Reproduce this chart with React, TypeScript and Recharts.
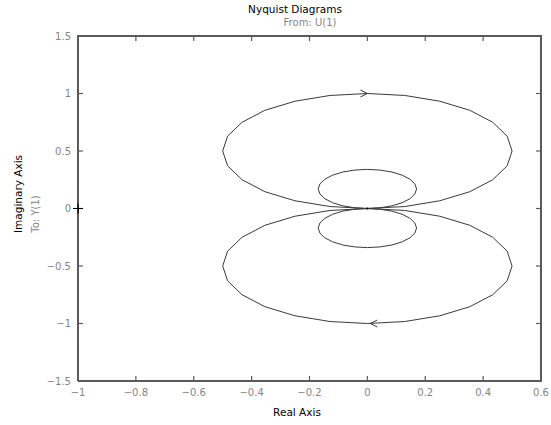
import React from "react";
import { ScatterChart, Scatter, XAxis, YAxis } from "recharts";

const upperOuterLoop: [number, number][] = [
  [0, 0], [-0.129, 0.017], [-0.25, 0.067], [-0.354, 0.146], [-0.433, 0.25], [-0.483, 0.371],
  [-0.5, 0.5], [-0.483, 0.629], [-0.433, 0.75], [-0.354, 0.854], [-0.25, 0.933], [-0.129, 0.983],
  [0, 1], [0.129, 0.983], [0.25, 0.933], [0.354, 0.854], [0.433, 0.75], [0.483, 0.629],
  [0.5, 0.5], [0.483, 0.371], [0.433, 0.25], [0.354, 0.146], [0.25, 0.067], [0.129, 0.017], [0, 0],
];
const lowerOuterLoop: [number, number][] = [
  [0, 0], [0.129, -0.017], [0.25, -0.067], [0.354, -0.146], [0.433, -0.25], [0.483, -0.371],
  [0.5, -0.5], [0.483, -0.629], [0.433, -0.75], [0.354, -0.854], [0.25, -0.933], [0.129, -0.983],
  [0, -1], [-0.129, -0.983], [-0.25, -0.933], [-0.354, -0.854], [-0.433, -0.75], [-0.483, -0.629],
  [-0.5, -0.5], [-0.483, -0.371], [-0.433, -0.25], [-0.354, -0.146], [-0.25, -0.067], [-0.129, -0.017], [0, 0],
];
const upperInnerLoop: [number, number][] = [
  [0, 0], [-0.044, 0.006], [-0.085, 0.023], [-0.12, 0.05], [-0.147, 0.085], [-0.164, 0.126],
  [-0.17, 0.17], [-0.164, 0.214], [-0.147, 0.255], [-0.12, 0.29], [-0.085, 0.317], [-0.044, 0.334],
  [0, 0.34], [0.044, 0.334], [0.085, 0.317], [0.12, 0.29], [0.147, 0.255], [0.164, 0.214],
  [0.17, 0.17], [0.164, 0.126], [0.147, 0.085], [0.12, 0.05], [0.085, 0.023], [0.044, 0.006], [0, 0],
];
const lowerInnerLoop: [number, number][] = [
  [0, 0], [0.044, -0.006], [0.085, -0.023], [0.12, -0.05], [0.147, -0.085], [0.164, -0.126],
  [0.17, -0.17], [0.164, -0.214], [0.147, -0.255], [0.12, -0.29], [0.085, -0.317], [0.044, -0.334],
  [0, -0.34], [-0.044, -0.334], [-0.085, -0.317], [-0.12, -0.29], [-0.147, -0.255], [-0.164, -0.214],
  [-0.17, -0.17], [-0.164, -0.126], [-0.147, -0.085], [-0.12, -0.05], [-0.085, -0.023], [-0.044, -0.006], [0, 0],
];
const arrowMarkers = [
  { x: 0, y: 1, dir: "right" },
  { x: 0.01, y: -1, dir: "left" },
];
const criticalPoint = [{ x: -1, y: 0 }];
const originPoint = [{ x: 0, y: 0 }];

const xDomain: [number, number] = [-1, 0.6];
const yDomain: [number, number] = [-1.5, 1.5];
const xTicks = [-1, -0.8, -0.6, -0.4, -0.2, 0, 0.2, 0.4, 0.6];
const yTicks = [-1.5, -1, -0.5, 0, 0.5, 1, 1.5];

const titleText = "Nyquist Diagrams";
const fromText = "From: U(1)";
const toText = "To: Y(1)";
const xLabelText = "Real Axis";
const yLabelText = "Imaginary Axis";

const toPts = (arr: [number, number][]) => arr.map(([x, y]) => ({ x, y }));
const fmt = (v: number) => String(v).replace("-", "\u2212");

// plot frame and tick anchor points, derived from the domains / tick lists
const frame = [
  { x: xDomain[0], y: yDomain[0] },
  { x: xDomain[1], y: yDomain[0] },
  { x: xDomain[1], y: yDomain[1] },
  { x: xDomain[0], y: yDomain[1] },
  { x: xDomain[0], y: yDomain[0] },
];
const bottomTickPts = xTicks.map((t) => ({ x: t, y: yDomain[0], side: "b" }));
const topTickPts = xTicks.map((t) => ({ x: t, y: yDomain[1], side: "t" }));
const leftTickPts = yTicks.map((t) => ({ x: xDomain[0], y: t, side: "l" }));
const rightTickPts = yTicks.map((t) => ({ x: xDomain[1], y: t, side: "r" }));

const FONT = "'DejaVu Sans', sans-serif";
const AXIS = "#5a5a5a";
const TICKTXT = "#858585";
const CURVE = "#3a3a3a";
const TL = 5;

const NoShape = () => <g />;

const TickMark = (props: any) => {
  const { cx, cy, payload } = props;
  const s = payload.side;
  const d =
    s === "b" ? `M ${cx} ${cy} L ${cx} ${cy - TL}` :
    s === "t" ? `M ${cx} ${cy} L ${cx} ${cy + TL}` :
    s === "l" ? `M ${cx} ${cy} L ${cx + TL} ${cy}` :
    `M ${cx} ${cy} L ${cx - TL} ${cy}`;
  return <path d={d} stroke={AXIS} strokeWidth={1.2} fill="none" />;
};

const ArrowShape = (props: any) => {
  const { cx, cy, payload } = props;
  const s = payload.dir === "right" ? 1 : -1;
  return (
    <path
      d={`M ${cx - s * 7} ${cy - 3.5} L ${cx} ${cy} L ${cx - s * 7} ${cy + 3.5}`}
      fill="none"
      stroke={CURVE}
      strokeWidth={1}
    />
  );
};

const PlusShape = (props: any) => {
  const { cx, cy } = props;
  return (
    <path
      d={`M ${cx - 5} ${cy} L ${cx + 5} ${cy} M ${cx} ${cy - 5} L ${cx} ${cy + 5}`}
      stroke="#000"
      strokeWidth={1.2}
      fill="none"
    />
  );
};

const DotShape = (props: any) => {
  const { cx, cy } = props;
  return <rect x={cx - 1} y={cy - 1} width={2} height={2} fill="#000" />;
};

const BottomTick = (props: any) => {
  const { x, y, payload } = props;
  const ay = y - 6;
  return (
    <text x={x} y={ay + 15} textAnchor="middle" fill={TICKTXT} fontSize={10} fontFamily={FONT}>
      {fmt(payload.value)}
    </text>
  );
};
const LeftTick = (props: any) => {
  const { x, y, payload } = props;
  const ax = x + 8;
  return (
    <text x={ax - 7} y={y + 3.5} textAnchor="end" fill={TICKTXT} fontSize={10} fontFamily={FONT}>
      {fmt(payload.value)}
    </text>
  );
};

const textBase: React.CSSProperties = {
  position: "absolute",
  fontFamily: FONT,
  fontSize: 10.5,
  whiteSpace: "nowrap",
  lineHeight: "12px",
};

export default function App() {
  const lineStyle = { stroke: CURVE, strokeWidth: 1 };
  const frameStyle = { stroke: AXIS, strokeWidth: 2 };
  return (
    <div style={{ position: "absolute", left: 0, top: 0, width: 551, height: 425, background: "#fff" }}>
      <ScatterChart width={551} height={425} margin={{ top: 36, right: 10, bottom: 14, left: 18 }}>
        <XAxis
          xAxisId="b"
          type="number"
          dataKey="x"
          domain={xDomain}
          ticks={xTicks}
          orientation="bottom"
          height={30}
          interval={0}
          tickSize={0}
          tickMargin={6}
          axisLine={false}
          tickLine={false}
          tick={BottomTick}
        />
        <YAxis
          yAxisId="l"
          type="number"
          dataKey="y"
          domain={yDomain}
          ticks={yTicks}
          orientation="left"
          width={60}
          interval={0}
          tickSize={0}
          tickMargin={8}
          axisLine={false}
          tickLine={false}
          tick={LeftTick}
        />
        <Scatter xAxisId="b" yAxisId="l" data={frame} line={frameStyle} lineJointType="linear" shape={NoShape} isAnimationActive={false} />
        {[bottomTickPts, topTickPts, leftTickPts, rightTickPts].map((pts, i) => (
          <Scatter key={"tk" + i} xAxisId="b" yAxisId="l" data={pts} shape={TickMark} isAnimationActive={false} />
        ))}
        {[upperOuterLoop, lowerOuterLoop, upperInnerLoop, lowerInnerLoop].map((loop, i) => (
          <Scatter
            key={i}
            xAxisId="b"
            yAxisId="l"
            data={toPts(loop)}
            line={lineStyle}
            lineJointType="linear"
            shape={NoShape}
            isAnimationActive={false}
          />
        ))}
        <Scatter xAxisId="b" yAxisId="l" data={arrowMarkers} shape={ArrowShape} isAnimationActive={false} />
        <Scatter xAxisId="b" yAxisId="l" data={originPoint} shape={DotShape} isAnimationActive={false} />
        <Scatter xAxisId="b" yAxisId="l" data={criticalPoint} shape={PlusShape} isAnimationActive={false} />
      </ScatterChart>
      <div style={{ ...textBase, left: 295, top: 3, transform: "translateX(-50%)", color: "#000" }}>
        {titleText}
      </div>
      <div style={{ ...textBase, left: 310, top: 17, transform: "translateX(-50%)", color: TICKTXT, fontSize: 10 }}>
        {fromText}
      </div>
      <div style={{ ...textBase, left: 297, top: 406, transform: "translateX(-50%)", color: "#000" }}>
        {xLabelText}
      </div>
      <div
        style={{
          ...textBase,
          left: 18,
          top: 194,
          transform: "translate(-50%, -50%) rotate(-90deg)",
          color: "#000",
        }}
      >
        {yLabelText}
      </div>
      <div
        style={{
          ...textBase,
          left: 36,
          top: 214,
          transform: "translate(-50%, -50%) rotate(-90deg)",
          color: TICKTXT,
          fontSize: 10,
        }}
      >
        {toText}
      </div>
    </div>
  );
}
